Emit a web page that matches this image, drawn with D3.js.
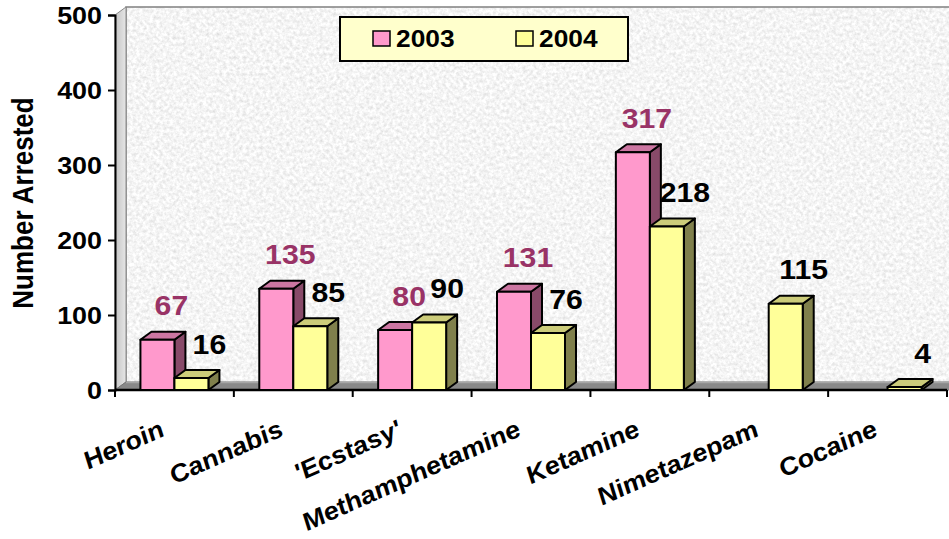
<!DOCTYPE html>
<html>
<head>
<meta charset="utf-8">
<script src="https://cdn.jsdelivr.net/npm/d3@7/dist/d3.min.js"></script>
<style>
  html, body { margin: 0; padding: 0; background: #ffffff; }
  svg { display: block; }
  text { font-family: "Liberation Sans", Arial, sans-serif; font-weight: bold; }
</style>
</head>
<body>
<script>
// Drug arrests by substance, 2003 vs 2004
const categories = ["Heroin", "Cannabis", "'Ecstasy'", "Methamphetamine", "Ketamine", "Nimetazepam", "Cocaine"];
const arrests2003 = [67, 135, 80, 131, 317, null, null];
const arrests2004 = [16, 85, 90, 76, 218, 115, 4];
const seriesNames = ["2003", "2004"];
const yTicks = [0, 100, 200, 300, 400, 500];
const yTitle = "Number Arrested";

const W = 949, H = 539;
const SX = 1.12;              // horizontal text stretch
const DEPTH = { dx: 11, dy: -8 };

const palette = {
  "2003": { front: "#FF99CC", top: "#CC76A2", side: "#884A69", label: "#993366" },
  "2004": { front: "#FFFF99", top: "#CCCC7A", side: "#80804C", label: "#000000" }
};

const svg = d3.select("body").append("svg")
  .attr("width", W).attr("height", H);

const plot = { left: 115, right: 947, top: 15, bottom: 390 };

const x = d3.scaleBand().domain(categories).range([plot.left, plot.right]).padding(0);
const xs = d3.scaleBand().domain(seriesNames).range([0, x.bandwidth()])
  .paddingInner(0).paddingOuter(0.748);
const y = d3.scaleLinear().domain([0, 500]).range([plot.bottom, plot.top]);

// granite texture for the back wall
const defs = svg.append("defs");
const wall = { x0: plot.left + DEPTH.dx, y0: plot.top + DEPTH.dy, x1: W + 5, y1: plot.bottom + DEPTH.dy };
const f = defs.append("filter").attr("id", "granite")
  .attr("filterUnits", "userSpaceOnUse")
  .attr("x", wall.x0).attr("y", wall.y0)
  .attr("width", wall.x1 - wall.x0).attr("height", wall.y1 - wall.y0);
f.append("feTurbulence").attr("type", "fractalNoise")
  .attr("baseFrequency", "0.3").attr("numOctaves", 4).attr("seed", 7).attr("result", "n");
f.append("feColorMatrix").attr("in", "n").attr("type", "matrix")
  .attr("values", "0.46 0 0 0 0.68  0.46 0 0 0 0.68  0.46 0 0 0 0.68  0 0 0 0 1")
  .attr("result", "g");
f.append("feComposite").attr("in", "g").attr("in2", "SourceGraphic").attr("operator", "in");

const leftWallGrad = defs.append("linearGradient").attr("id", "leftwall")
  .attr("x1", 0).attr("x2", 1).attr("y1", 0).attr("y2", 0);
leftWallGrad.append("stop").attr("offset", 0).attr("stop-color", "#c4c4c4");
leftWallGrad.append("stop").attr("offset", 1).attr("stop-color", "#e6e6e6");

// back wall
svg.append("rect")
  .attr("x", wall.x0).attr("y", wall.y0)
  .attr("width", wall.x1 - wall.x0).attr("height", wall.y1 - wall.y0)
  .attr("fill", "#fff").attr("filter", "url(#granite)");
svg.append("path")
  .attr("d", `M${wall.x0},${wall.y1}V${wall.y0}H${wall.x1}`)
  .attr("fill", "none").attr("stroke", "#808080").attr("stroke-width", 1.5);

// side wall
svg.append("path")
  .attr("d", `M${plot.left},${plot.bottom}L${plot.left},${plot.top}L${wall.x0},${wall.y0}L${wall.x0},${wall.y1}Z`)
  .attr("fill", "url(#leftwall)").attr("stroke", "#8a8a8a").attr("stroke-width", 1);

// floor
svg.append("path")
  .attr("d", `M${plot.left},${plot.bottom}L${wall.x0},${wall.y1}L${wall.x1},${wall.y1}L${wall.x1},${plot.bottom}Z`)
  .attr("fill", "#898989").attr("stroke", "#777").attr("stroke-width", 1);
svg.append("line")
  .attr("x1", wall.x0).attr("x2", wall.x1).attr("y1", wall.y1 + 0.5).attr("y2", wall.y1 + 0.5)
  .attr("stroke", "#a6a6a6").attr("stroke-width", 1.5);

// axes
const yAxisG = svg.append("g").attr("transform", `translate(${plot.left},0)`)
  .call(d3.axisLeft(y).tickValues(yTicks).tickSize(7).tickFormat(""));
yAxisG.select(".domain").attr("stroke", "#000").attr("stroke-width", 2);
yAxisG.selectAll(".tick line").attr("stroke", "#000").attr("stroke-width", 2);

const xTicks = categories.map(c => x(c)).concat([plot.right]);
const xAxisG = svg.append("g");
xAxisG.append("line")
  .attr("x1", plot.left).attr("x2", plot.right).attr("y1", plot.bottom).attr("y2", plot.bottom)
  .attr("stroke", "#000").attr("stroke-width", 2.5);
xAxisG.selectAll("line.xt").data(xTicks).join("line").attr("class", "xt")
  .attr("x1", d => d).attr("x2", d => d).attr("y1", plot.bottom).attr("y2", plot.bottom + 7)
  .attr("stroke", "#000").attr("stroke-width", 2);

// y tick labels
svg.append("g").selectAll("text").data(yTicks).join("text")
  .attr("transform", d => `translate(${plot.left - 13},${y(d) + 8.6}) scale(${SX},1)`)
  .attr("text-anchor", "end").attr("font-size", 24).attr("fill", "#000")
  .text(d => d);

// y title
svg.append("text")
  .attr("transform", `translate(33,203) scale(${SX},1) rotate(-90)`)
  .attr("text-anchor", "middle").attr("font-size", 26).attr("fill", "#000")
  .text(yTitle);

// category labels
svg.append("g").selectAll("text").data(categories).join("text")
  .attr("transform", d => `translate(${x(d) + x.bandwidth() / 2 - 8},435) scale(${SX},1) rotate(-26.5)`)
  .attr("text-anchor", "end").attr("font-size", 24.5).attr("font-style", "italic").attr("fill", "#000")
  .text(d => d);

// bars
const series = [
  { name: "2003", values: arrests2003 },
  { name: "2004", values: arrests2004 }
];

const barsG = svg.append("g");
categories.forEach((cat, i) => {
  series.forEach(s => {
    const v = s.values[i];
    if (v == null) return;
    const c = palette[s.name];
    const x0 = x(cat) + xs(s.name), x1 = x0 + xs.bandwidth();
    const yt = y(v), yb = y(0);
    const { dx, dy } = DEPTH;
    const g = barsG.append("g")
      .attr("stroke", "#000").attr("stroke-width", 2).attr("stroke-linejoin", "round");
    g.append("path").attr("fill", c.side)
      .attr("d", `M${x1},${yb}L${x1 + dx},${yb + dy}L${x1 + dx},${yt + dy}L${x1},${yt}Z`);
    g.append("path").attr("fill", c.top)
      .attr("d", `M${x0},${yt}L${x0 + dx},${yt + dy}L${x1 + dx},${yt + dy}L${x1},${yt}Z`);
    g.append("rect").attr("fill", c.front)
      .attr("x", x0).attr("y", yt).attr("width", x1 - x0).attr("height", yb - yt);
  });
});

// value labels
const labelShift = { "2003": 14, "2004": 18 };
const labelsG = svg.append("g");
categories.forEach((cat, i) => {
  series.forEach(s => {
    const v = s.values[i];
    if (v == null) return;
    const cx = x(cat) + xs(s.name) + xs.bandwidth() / 2 + labelShift[s.name];
    const cy = y(v) - 34;
    labelsG.append("text")
      .attr("transform", `translate(${cx},${cy + 9.5}) scale(${SX},1)`)
      .attr("text-anchor", "middle").attr("font-size", 27)
      .attr("fill", palette[s.name].label)
      .text(v);
  });
});

// legend
const lg = svg.append("g").attr("transform", "translate(340,17)");
lg.append("rect").attr("width", 288).attr("height", 44)
  .attr("fill", "#FFFFCC").attr("stroke", "#000").attr("stroke-width", 2);
const legItems = lg.selectAll("g.item").data(seriesNames).join("g").attr("class", "item")
  .attr("transform", (d, i) => `translate(${33 + i * 143},14)`);
legItems.append("rect").attr("width", 17).attr("height", 15)
  .attr("fill", d => palette[d].front).attr("stroke", "#000").attr("stroke-width", 1.5);
legItems.append("text")
  .attr("transform", `translate(23,16) scale(${SX},1)`)
  .attr("font-size", 23.5).attr("fill", "#000")
  .text(d => d);
</script>
</body>
</html>
